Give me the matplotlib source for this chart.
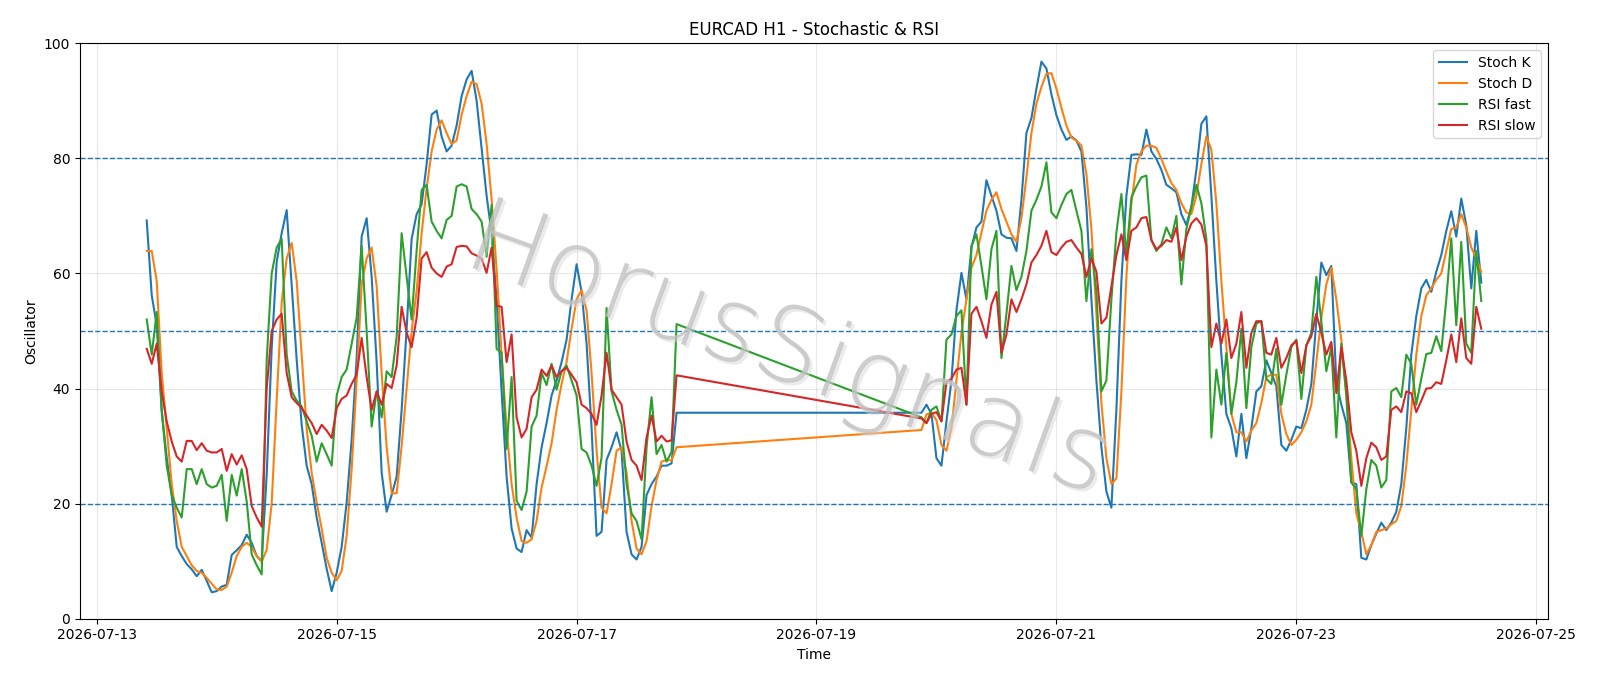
import numpy as np
import pandas as pd
import matplotlib
matplotlib.use("Agg")
import matplotlib.pyplot as plt
import matplotlib.dates as mdates
import matplotlib.patheffects as pe
from matplotlib import font_manager as fm

# Zeitachse: H1-Kerzen, Wochenende fehlt (Fr 20:00 -> So 21:00)
t1 = pd.date_range("2026-07-13 10:00", "2026-07-17 20:00", freq="h")
t2 = pd.date_range("2026-07-19 21:00", "2026-07-24 13:00", freq="h")
t = t1.append(t2)

# Stoch K
k1 = [69.2, 56.2, 51, 36, 28, 21.5, 12.5, 10.9, 9.5, 8.6, 7.4, 8.5, 6.6, 4.6, 4.8, 5.6, 5.9, 11.1, 11.9, 12.8,
      14.6, 13.2, 10.9, 10, 25, 47, 62, 67, 71, 58, 45, 33.7, 26.6, 23.4, 17.6, 13.2, 8.7, 4.8, 8, 12.5,
      20.2, 31.1, 45.3, 66.4, 69.6, 59.4, 44.6, 25.4, 18.6, 21.5, 24.7, 36.3, 50.4, 66, 70.3, 72, 79, 87.6, 88.3, 83.8,
      81.2, 82.2, 85.7, 90.8, 93.7, 95.2, 90, 81.8, 73.5, 67, 55.5, 39.5, 24.7, 15.7, 12.2, 11.6, 15.4, 14.1, 23.4, 29.8,
      34, 38.8, 41.4, 44.6, 48.5, 55.5, 61.6, 56.8, 47.8, 33.1, 14.4, 15.1, 27.6, 29.8, 32.4, 29.2, 15.1, 11.2, 10.3, 12.5,
      21.5, 23.4, 24.7, 26.6, 26.6, 27, 35.8]
k2 = [35.8, 37.2, 35.6, 27.9, 26.6, 34.3, 41.4, 53.6, 60.1, 55.5, 64.5, 68, 69, 76.2, 73.5, 70.9, 66.8, 66.2, 66.1, 63.9,
      72.8, 84.4, 87, 92.1, 96.8, 95.6, 91.1, 87.5, 85, 83.2, 83.8, 83.1, 81.2, 71.6, 55.5, 41.4, 29.8, 22.1, 19.3, 36.3,
      58.7, 73.5, 80.6, 80.7, 80.6, 85, 81.2, 79.9, 78, 75.4, 74.8, 74.1, 70.3, 68.4, 71.6, 78, 86, 87.3, 73.5, 58.7,
      45.9, 35.6, 33.1, 28.2, 35.6, 27.9, 33.1, 39.5, 40.4, 44.9, 42.7, 40.4, 30.2, 29.2, 31.1, 33.4, 33.1, 36.3, 40.8, 51.7,
      61.9, 59.7, 61.3, 41.1, 37.2, 34, 23.7, 23.4, 10.6, 10.3, 12.8, 14.8, 16.7, 15.4, 16.7, 18.6, 23.4, 33.1, 45.9, 52.6,
      57.4, 58.9, 56.8, 60.3, 63.2, 67.4, 70.8, 66.4, 73, 68.4, 57.4, 67.4, 58.4]

# Stoch D
d1 = [63.9, 63.9, 58.7, 42.7, 33, 23.4, 17, 12.5, 10.9, 9.3, 8.3, 8, 7.1, 6.1, 5.1, 5, 5.6, 8, 10.9, 12.5,
      13.2, 12.5, 10.9, 9.9, 12, 20, 38, 55, 62.6, 65.3, 58.7, 45.9, 33, 25.4, 20.2, 15.7, 10.6, 8, 6.7, 8.3,
      14.4, 26, 41.4, 58.1, 62.6, 64.5, 57.8, 42.7, 29.8, 21.8, 21.8, 30, 40, 50, 57, 67, 74.8, 81.2, 85, 86.6,
      84.4, 82.5, 83.1, 87.6, 90.8, 93.3, 92.9, 89.5, 82.5, 72.9, 60.7, 45.9, 33, 23.4, 17.6, 13.5, 13.2, 13.8, 17, 22.8,
      26.5, 30.5, 36.3, 40.8, 44.6, 50.4, 55.5, 57.1, 53.6, 42.7, 29.2, 19.3, 18.3, 23.4, 29.2, 29.8, 25.4, 17, 12.2, 11.2,
      13.5, 19.6, 24.1, 27.3, 27.6, 27.5, 29.8]
d2 = [32.8, 35.5, 35.8, 34.5, 30.2, 29.2, 33.1, 41.4, 49.7, 55.5, 61, 63.2, 67.1, 70.9, 72.8, 74.1, 71.2, 69, 66.8, 65.5,
      69.6, 76.7, 84.4, 89.5, 92.4, 94.7, 94.8, 92.1, 88.8, 85.7, 83.6, 83.1, 82.2, 77.3, 67.7, 53, 37.5, 27.9, 23.4, 24.4,
      39.5, 59.4, 72.2, 78.9, 81.2, 82.2, 82.2, 81.8, 79.9, 77.7, 75.7, 74.5, 72.2, 70.6, 70.3, 73.5, 79, 83.8, 81.5, 72.2,
      58.7, 47.2, 35.6, 32.4, 32.4, 30.8, 32.7, 34, 37.5, 42, 42.4, 42.4, 35.6, 32.1, 30.2, 31.1, 32.4, 34.3, 37.2, 44.6,
      52.3, 58.1, 61, 55.5, 48.5, 39.2, 27.9, 18.3, 15.1, 11.2, 12.8, 15.1, 15.4, 15.7, 16.4, 17, 19.6, 26.6, 36.3, 45.9,
      52.6, 56.2, 57.4, 58.9, 60, 63.9, 67.7, 68, 70.3, 68, 64.5, 62.6, 60.3]

# RSI fast
f1 = [52, 45.9, 53.3, 36.3, 26.6, 21.5, 19.3, 17.6, 26, 26, 23.4, 26, 23.4, 22.8, 23.1, 25, 17, 25, 21.4, 26,
      20.4, 11.2, 9.3, 7.7, 45, 60, 64.5, 66, 45.9, 39.5, 37.9, 36.9, 34.3, 31.8, 27.3, 30.5, 28.6, 26.6, 38.8, 42,
      43.3, 47.8, 52.3, 64.8, 50, 33.4, 39.5, 35, 43, 42, 49, 67, 59.4, 52, 64, 74.5, 75.4, 69, 67.4, 66.1,
      69.3, 70, 75.1, 75.5, 75.1, 71.2, 70.3, 69, 62.9, 71.9, 46.9, 46.2, 29.5, 42, 20.5, 18.9, 22.1, 33.4, 35.3, 42.7,
      40.6, 44.3, 39.8, 43, 44, 41.4, 38.8, 29.5, 28.9, 26.6, 23.1, 28, 54, 39.5, 36.3, 33.7, 23.4, 18.3, 17, 13.8,
      29.8, 38.5, 28.6, 30.2, 27.3, 29, 51.2]
f2 = [35, 34, 36.3, 36.9, 34.3, 48.5, 49.4, 52.6, 53.6, 37.2, 64.8, 66.8, 61.3, 55.5, 64.2, 67.4, 45.3, 53, 61.3, 57.1,
      59.4, 63.9, 70.9, 72.8, 75.1, 79.3, 70.6, 69.6, 71.9, 73.8, 74.5, 70.9, 67.4, 55.2, 64.2, 56.8, 39.5, 41.4, 55.5, 67.1,
      73.8, 63.2, 73.2, 75.1, 76.7, 77, 65.8, 63.9, 65.1, 68, 66.1, 70, 58.1, 67.7, 71.6, 75.4, 72.2, 66, 31.5, 43.3,
      37.2, 46.2, 35.6, 41.1, 50.4, 36.6, 47.2, 51.3, 51.7, 41.7, 40.8, 46.9, 37.2, 42.4, 47.2, 48.5, 38.2, 47.5, 49.7, 59.4,
      51.7, 43, 47.2, 31.5, 47.8, 38.8, 23.7, 22.5, 14.4, 22.5, 27.6, 26.6, 22.8, 24.1, 39.5, 40.1, 38.5, 45.9, 44.3, 37.2,
      41.7, 46, 46.2, 49.1, 46.5, 55.5, 66.1, 51, 65.5, 47.8, 46.2, 63.9, 55.2]

# RSI slow
s1 = [46.9, 44.3, 47.8, 39.5, 34.3, 30.8, 28.2, 27.3, 30.9, 30.9, 29.3, 30.5, 29.2, 28.9, 28.9, 29.5, 25.7, 28.6, 26.8, 28.4,
      26, 19.6, 17.6, 16, 40, 50, 52, 53, 42.7, 38.5, 37.5, 36.6, 35.3, 34, 32.1, 33.7, 32.7, 31.4, 36.6, 38.2,
      38.8, 40.8, 42.4, 48.8, 42, 36.3, 39.5, 37.2, 40.8, 40.1, 44, 54.2, 49.7, 47.2, 52.3, 62.6, 63.7, 61, 60, 59.4,
      61.2, 61.6, 64.6, 64.8, 64.7, 63.5, 63.1, 62.6, 60.1, 64.5, 54.4, 54.2, 44.6, 49.4, 35, 31.5, 33, 38.5, 39.8, 43.3,
      42.2, 44, 42, 43, 43.6, 42.4, 41.1, 37.2, 36.6, 35.6, 33.7, 38.8, 46.2, 39.8, 38.5, 37.2, 30.8, 27.6, 26.6, 24.1,
      31.5, 35.3, 30.8, 31.8, 30.8, 31, 42.3]
s2 = [34.8, 34, 35.6, 35.9, 34.3, 41.1, 41.7, 43.3, 43.6, 37.2, 53, 54.2, 51.7, 48.8, 54.6, 56.8, 46.2, 49.4, 55.5, 53.3,
      55.5, 58.1, 61.9, 63.2, 64.8, 67.4, 63.7, 63.2, 64.5, 65.5, 65.8, 64.5, 63.4, 59.4, 62.6, 60.3, 51.3, 52.3, 57.8, 63.2,
      66.8, 62.3, 67.4, 68, 69.6, 69.8, 65.8, 64.2, 64.8, 65.8, 65.5, 68, 62.3, 66.4, 68.7, 69.6, 68.5, 64.8, 47.2, 51.3,
      47.8, 52, 45.3, 47.8, 53.3, 43.6, 49.7, 51.7, 51.7, 46.2, 45.9, 48.8, 43.6, 45.3, 47.5, 48.3, 42.7, 47.5, 49.1, 53,
      49.7, 45.9, 48.1, 39.2, 47.2, 41.4, 32.4, 29.2, 23.1, 27.9, 30.6, 29.8, 27.6, 28.2, 36.3, 36.9, 35.9, 39.5, 39.2, 35.9,
      37.9, 40, 40.1, 41.1, 40.8, 44.9, 49.4, 44.6, 52.2, 45.3, 44.3, 54.2, 50.4]

stoch_k = k1 + k2
stoch_d = d1 + d2
rsi_fast = f1 + f2
rsi_slow = s1 + s2

# duenne Schrift fuer das Wasserzeichen suchen (falls vorhanden)
def _w(f):
    w = f.weight
    return w if isinstance(w, int) else fm.weight_dict.get(w, 400)

wm_prop = fm.FontProperties(family='DejaVu Sans', weight='light', size=75)
for fam in ['DejaVu Sans', 'Open Sans', 'Lato', 'Roboto', 'Noto Sans', 'Inter']:
    cands = [f for f in fm.fontManager.ttflist
             if f.name == fam and f.style == 'normal' and 150 <= _w(f) <= 300]
    if cands:
        best = sorted(cands, key=_w)[0]
        wm_prop = fm.FontProperties(fname=best.fname, size=75)
        break

#-----------------------------------------------------------------
# Plotten
fig, ax = plt.subplots(figsize=(16, 6.86), dpi=100)
fig.subplots_adjust(left=0.05, right=0.9675, top=0.937, bottom=0.098)

ax.plot(t, stoch_k, label='Stoch K')
ax.plot(t, stoch_d, label='Stoch D')
ax.plot(t, rsi_fast, label='RSI fast')
ax.plot(t, rsi_slow, label='RSI slow')

for lvl in (80, 50, 20):
    ax.axhline(lvl, linestyle='--', linewidth=1, color='C0')

ax.set_ylim(0, 100)
ax.grid(True, alpha=0.3)
ax.xaxis.set_major_locator(mdates.DayLocator(bymonthday=[13, 15, 17, 19, 21, 23, 25]))
ax.xaxis.set_major_formatter(mdates.DateFormatter('%Y-%m-%d'))

ax.set_title('EURCAD H1 - Stochastic & RSI')
ax.set_xlabel('Time')
ax.set_ylabel('Oscillator')
ax.legend(loc='upper right')

# Wasserzeichen
ax.text(0.482, 0.463, 'HorusSignals', transform=ax.transAxes, fontproperties=wm_prop,
        color='#c2c2c2', alpha=0.8, rotation=-20,
        ha='center', va='center', zorder=5,
        path_effects=[pe.SimplePatchShadow(offset=(2, -2), shadow_rgbFace='#d8d8d8', alpha=0.5),
                      pe.Normal()])

fig.savefig('out.png', dpi=100)
